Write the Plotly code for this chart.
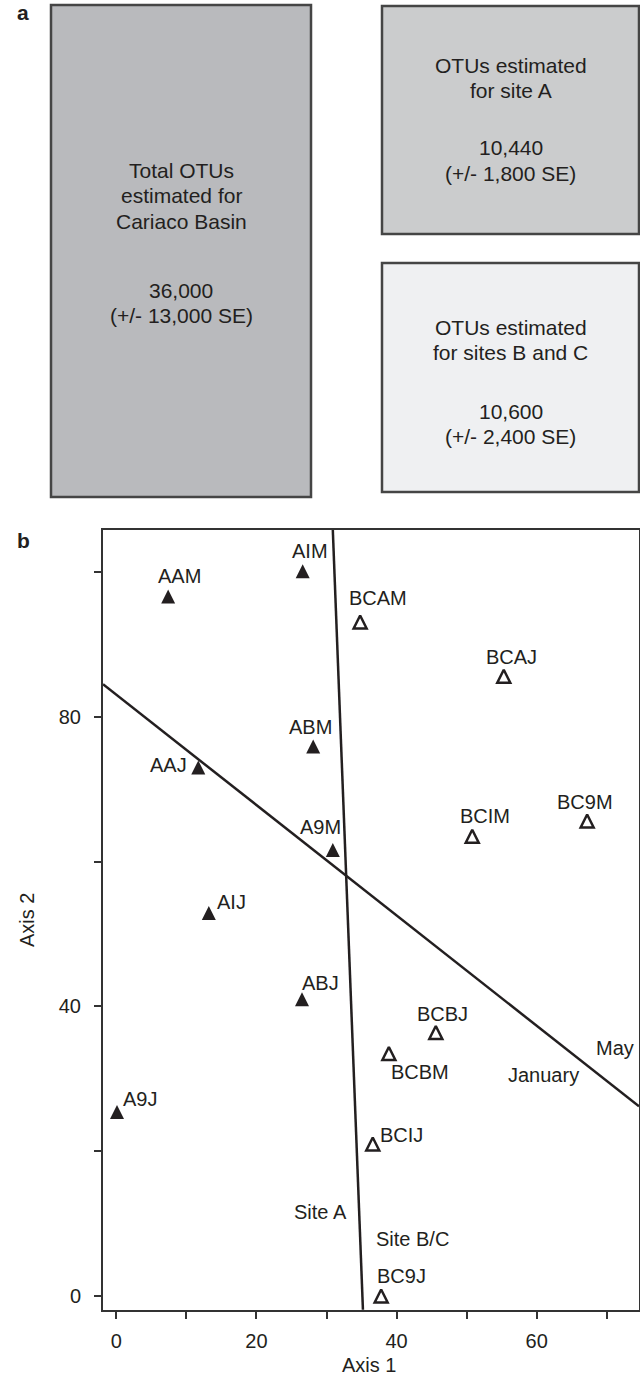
import plotly.graph_objects as go

W, H = 640, 1376
INK = "#231f20"
FONT = "Liberation Sans, Arial, Helvetica, sans-serif"

# ---------------- Panel a data ----------------
box_title_lines = [
    ["Total OTUs", "estimated for", "Cariaco Basin"],
    ["OTUs estimated", "for site A"],
    ["OTUs estimated", "for sites B and C"],
]
box_estimates = ["36,000", "10,440", "10,600"]
box_se = ["13,000", "1,800", "2,400"]

# ---------------- Panel b data ----------------
a_labels = ["AAM", "AIM", "ABM", "AAJ", "A9M", "AIJ", "ABJ", "A9J"]
a_axis1 = [7.4, 26.6, 28.1, 11.7, 30.9, 13.2, 26.5, 0.1]
a_axis2 = [96.6, 100.1, 75.9, 73.0, 61.6, 52.9, 41.0, 25.4]

bc_labels = ["BCAM", "BCAJ", "BCIM", "BC9M", "BCBJ", "BCBM", "BCIJ", "BC9J"]
bc_axis1 = [34.8, 55.3, 50.8, 67.2, 45.6, 38.9, 36.6, 37.8]
bc_axis2 = [93.1, 85.6, 63.5, 65.6, 36.4, 33.5, 21.0, 0.0]

site_line_axis1 = [30.9, 35.2]
site_line_axis2 = [105.8, -1.9]
month_line_axis1 = [-1.9, 74.6]
month_line_axis2 = [84.5, 26.2]

region_labels = ["Site A", "Site B/C", "January", "May"]
region_axis1 = [29.1, 42.3, 61.0, 71.2]
region_axis2 = [11.6, 7.9, 30.5, 34.2]

x_ticks = [0, 10, 20, 30, 40, 50, 60, 70]
x_ticktext = ["0", "", "20", "", "40", "", "60", ""]
y_ticks = [0, 20, 40, 60, 80, 100]
y_ticktext = ["0", "", "40", "", "80", ""]

# ---------------- styling (pixel layout) ----------------
def px(x):
    return x / W

def py(y):
    return 1 - y / H

box_rects = [(51, 5, 311, 497), (382, 6, 639, 234), (382, 263, 639, 492)]
box_fills = ["#b9babd", "#cbcccd", "#eff0f2"]
box_title_y = [170, 65, 327]
box_value_y = [290, 148, 411]
LINE_STEP = 25.5

a_label_shift = [(11, 21), (7, 20), (-3, 19), (-30, 2), (-12, 23), (23, 11), (19, 16), (23, 13)]
bc_label_shift = [(18, 24), (8, 19), (13, 20), (-2, 19), (7, 18), (31, -19), (29, 9), (20, 20)]

fig = go.Figure()

# lines
fig.add_trace(go.Scatter(x=site_line_axis1, y=site_line_axis2, mode="lines",
                         line=dict(color=INK, width=2.5), hoverinfo="skip", showlegend=False))
fig.add_trace(go.Scatter(x=month_line_axis1, y=month_line_axis2, mode="lines",
                         line=dict(color=INK, width=2.5), hoverinfo="skip", showlegend=False))

# site A points (filled triangles)
fig.add_trace(go.Scatter(
    x=a_axis1, y=a_axis2, mode="markers", name="Site A", showlegend=False,
    text=a_labels,
    marker=dict(symbol="arrow-down", angle=180, standoff=7, size=14, color=INK,
                line=dict(width=0)),
))
# site B/C points (open triangles)
fig.add_trace(go.Scatter(
    x=bc_axis1, y=bc_axis2, mode="markers", name="Site B/C", showlegend=False,
    text=bc_labels,
    marker=dict(symbol="arrow-down-open", angle=180, standoff=6.5, size=13, color=INK,
                line=dict(width=2.5, color=INK)),
))

annotations = []
lab_font = dict(family=FONT, size=20, color=INK)
for lab, x, y, (dx, dy) in zip(a_labels, a_axis1, a_axis2, a_label_shift):
    annotations.append(dict(x=x, y=y, xref="x", yref="y", text=lab, showarrow=False,
                            xshift=dx, yshift=dy, font=lab_font,
                            xanchor="center", yanchor="middle"))
for lab, x, y, (dx, dy) in zip(bc_labels, bc_axis1, bc_axis2, bc_label_shift):
    annotations.append(dict(x=x, y=y, xref="x", yref="y", text=lab, showarrow=False,
                            xshift=dx, yshift=dy, font=lab_font,
                            xanchor="center", yanchor="middle"))
for lab, x, y in zip(region_labels, region_axis1, region_axis2):
    annotations.append(dict(x=x, y=y, xref="x", yref="y", text=lab, showarrow=False,
                            font=lab_font, xanchor="center", yanchor="middle"))

# axis titles
annotations.append(dict(x=px(27), y=py(920), xref="paper", yref="paper", text="Axis 2",
                        textangle=-90, showarrow=False, font=lab_font,
                        xanchor="center", yanchor="middle"))
annotations.append(dict(x=px(369), y=py(1365), xref="paper", yref="paper", text="Axis 1",
                        showarrow=False, font=lab_font, xanchor="center", yanchor="middle"))

# panel letters
annotations.append(dict(x=px(23), y=py(12), xref="paper", yref="paper", text="<b>a</b>",
                        showarrow=False, font=dict(family=FONT, size=21, color=INK),
                        xanchor="center", yanchor="middle"))
annotations.append(dict(x=px(23), y=py(540), xref="paper", yref="paper", text="<b>b</b>",
                        showarrow=False, font=dict(family=FONT, size=21, color=INK),
                        xanchor="center", yanchor="middle"))

# panel a boxes
shapes = []
box_font = dict(family=FONT, size=21, color=INK)
for (x0, y0, x1, y1), fill, lines, est, se, ty, vy in zip(
        box_rects, box_fills, box_title_lines, box_estimates, box_se, box_title_y, box_value_y):
    shapes.append(dict(type="rect", xref="paper", yref="paper",
                       x0=px(x0), x1=px(x1), y0=py(y1), y1=py(y0),
                       fillcolor=fill, line=dict(color="#454545", width=2.5), layer="below"))
    cx = px((x0 + x1) / 2)
    for i, t in enumerate(lines):
        annotations.append(dict(x=cx, y=py(ty + i * LINE_STEP), xref="paper", yref="paper",
                                text=t, showarrow=False, font=box_font,
                                xanchor="center", yanchor="middle"))
    annotations.append(dict(x=cx, y=py(vy), xref="paper", yref="paper", text=est,
                            showarrow=False, font=box_font, xanchor="center", yanchor="middle"))
    annotations.append(dict(x=cx, y=py(vy + LINE_STEP), xref="paper", yref="paper",
                            text="(+/- " + se + " SE)", showarrow=False, font=box_font,
                            xanchor="center", yanchor="middle"))

axis_common = dict(showgrid=False, zeroline=False, showline=True, linecolor="#333333",
                   linewidth=2, mirror=True, ticks="outside", ticklen=7, tickwidth=1.5,
                   tickcolor="#333333", tickfont=dict(family=FONT, size=20, color=INK))

fig.update_layout(
    width=W, height=H,
    margin=dict(l=0, r=0, t=0, b=0),
    paper_bgcolor="white", plot_bgcolor="white",
    xaxis=dict(domain=[px(103), px(639)], range=[-1.9, 74.6], tickmode="array",
               tickvals=x_ticks, ticktext=x_ticktext, ticklabelstandoff=5, **axis_common),
    yaxis=dict(domain=[py(1310), py(530)], range=[-1.93, 105.8], tickmode="array",
               tickvals=y_ticks, ticktext=y_ticktext, ticklabelstandoff=9, **axis_common),
    shapes=shapes,
    annotations=annotations,
    showlegend=False,
)

fig.write_html("out.html", config={"displayModeBar": False},
               post_script="document.body.style.margin='0';")
